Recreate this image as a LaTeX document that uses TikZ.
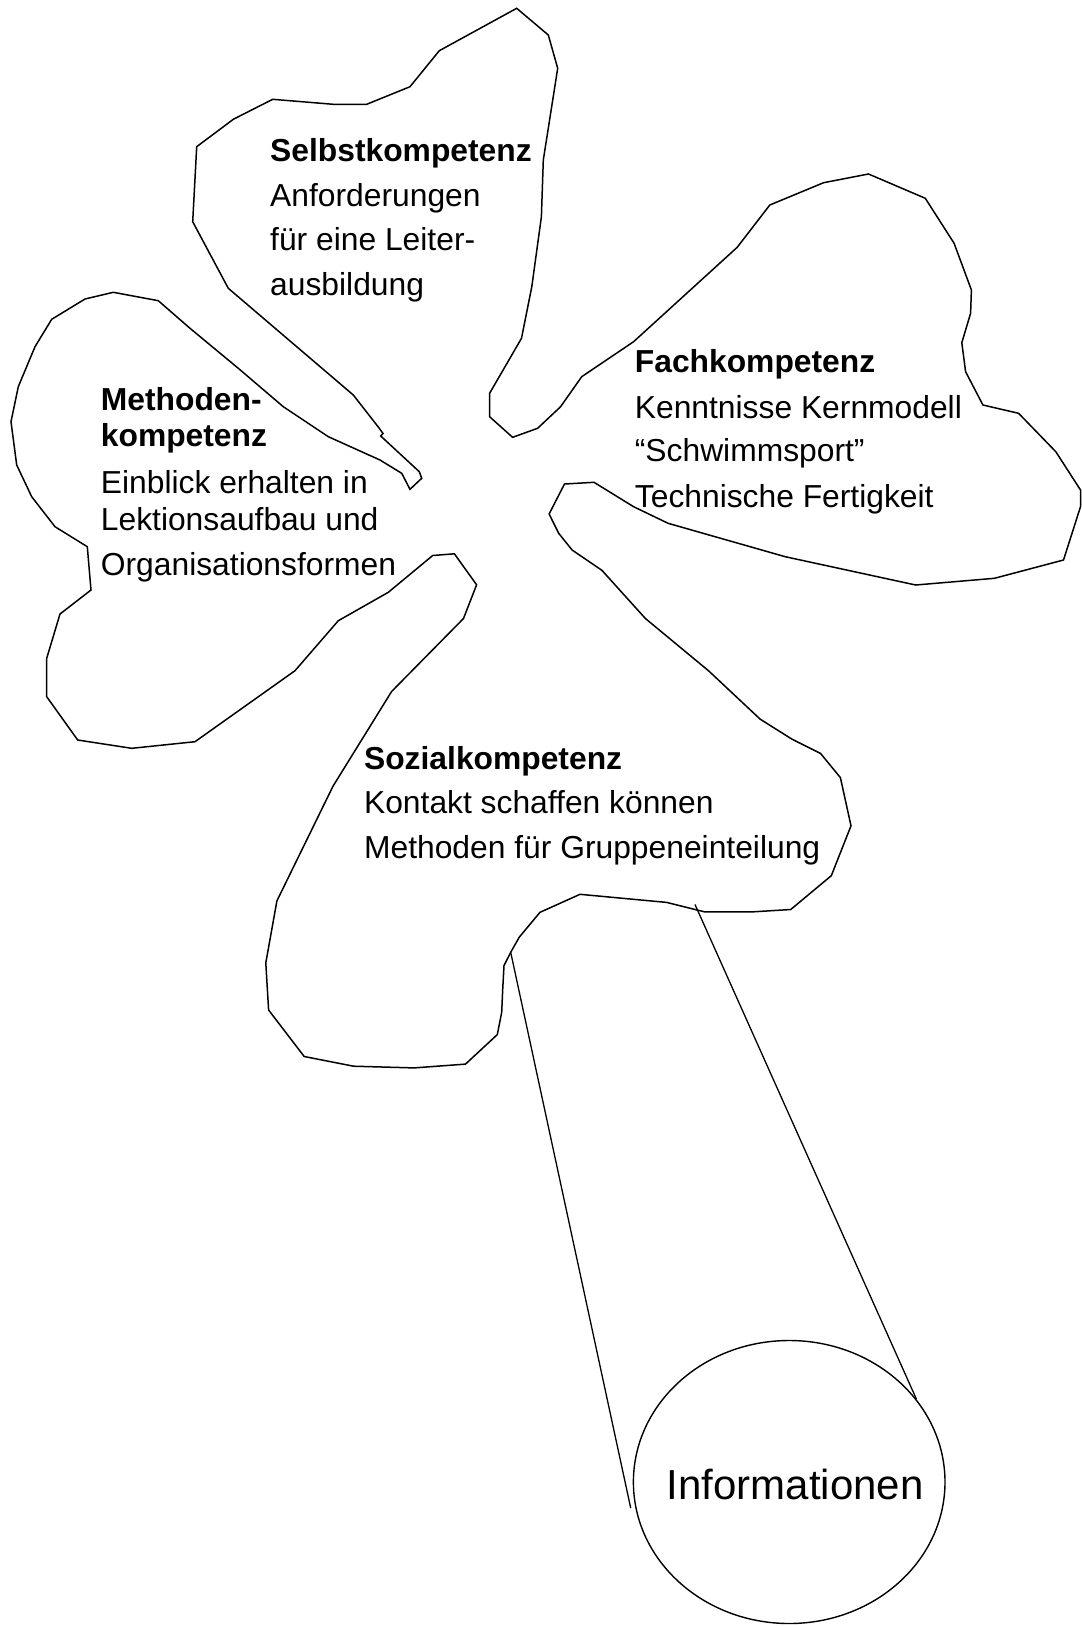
\documentclass[tikz,border=0pt]{standalone}
\usepackage{fontspec}
\setmainfont{Liberation Sans}
\usetikzlibrary{shapes.geometric}
\begin{document}
\begin{tikzpicture}[x=1pt,y=-1pt,
  outline/.style={line width=1.5pt},
  stemline/.style={line width=1.3pt},
  leaftext/.style={anchor=base west, inner sep=0pt, font=\fontsize{31.8pt}{44.4pt}\selectfont},
  leafhead/.style={anchor=base west, inner sep=0pt, font=\fontsize{31.8pt}{44.4pt}\selectfont\bfseries},
  infoshape/.style={draw, ellipse, line width=1.4pt, minimum width=311.6pt, minimum height=283pt, inner sep=0pt},
  infotext/.style={anchor=base, inner sep=0pt, font=\fontsize{42pt}{50pt}\selectfont}]
\useasboundingbox (0,0) rectangle (1082,1626);

% clover outline
\draw[outline] (196.7,146.7) -- (233.3,119.3) -- (272.7,99.3) -- (333.3,104.3) -- (366.7,104.3) -- (410,86.7) -- (439.3,50.7) -- (516.7,8.3) -- (548.3,35) -- (557.7,68.3) -- (543.3,160) -- (541.4,216.7) -- (531.8,286.7) -- (521.5,338.3) -- (489.6,393.3) -- (489.6,416.7) -- (512.6,437.3) -- (537.6,428.3) -- (560.6,406.7) -- (581.7,376.7) -- (633.6,341.7) -- (737.2,247.3) -- (769.8,205) -- (823.6,182.7) -- (868.5,174) -- (925.3,198.3) -- (954.1,243.3) -- (971.4,290) -- (970.6,313.3) -- (961.8,342.7) -- (965.6,371.7) -- (982.9,405) -- (1018.6,413.3) -- (1055.8,451.7) -- (1080.5,490) -- (1080.5,506.7) -- (1063.5,560) -- (994.4,578.3) -- (915.7,585) -- (785.2,556.7) -- (668.1,523.3) -- (633.6,506.7) -- (594,482.3) -- (564.5,484) -- (549.1,514) -- (558.7,533.3) -- (572.1,550) -- (601.9,570.3) -- (645.4,618.5) -- (708.7,670.9) -- (760.1,719.1) -- (791.7,739) -- (820.6,753.5) -- (840.4,777.6) -- (851,825.8) -- (831.3,875.7) -- (790.7,909.5) -- (751.7,911.9) -- (705,911.9) -- (695,909.5) -- (666.7,902.4) -- (580,894.3) -- (540,912.3) -- (519.3,937.1) -- (510.7,952.3) -- (504,965.6) -- (502.7,989.4) -- (501.7,1012.3) -- (497.3,1034.6) -- (465.5,1064.1) -- (414.1,1067.9) -- (353.6,1066.2) -- (304.2,1056.5) -- (268.6,1010) -- (265.8,962.9) -- (276.9,900.9) -- (333,786.2) -- (391.6,691.5) -- (463.5,618.5) -- (476.6,584.8) -- (454.4,553.8) -- (432.7,555.5) -- (388.3,592.3) -- (338.3,620.7) -- (295,670.7) -- (195,741.7) -- (131.7,748.3) -- (77.7,740) -- (46.7,696.7) -- (46.7,658.3) -- (60,614) -- (91,590) -- (87.3,546.7) -- (55,526.7) -- (31.7,496.7) -- (16.7,465) -- (11,421.7) -- (18.3,386.7) -- (35,346.7) -- (51.7,319.3) -- (85,299) -- (113.3,292.3) -- (158.3,300.7) -- (190,328.3) -- (238.3,368.3) -- (283.3,406.7) -- (328.3,436.7) -- (380,460) -- (401.7,473.3) -- (410,489.3) -- (421.7,478.3) -- (419.3,471.7) -- (380.7,436) -- (383,433.5) -- (379.3,428.3) -- (353.3,395) -- (228.3,288.3) -- (192.7,221.7) -- cycle;

% Informationen
\node[infoshape] (info) at (789.2,1482) {};
\node[infotext] (infolabel) at (795.3,1499.4) {Informationen};

% stem
\coordinate (sl0) at (510.7,952.3);
\coordinate (sl1) at (630.7,1508);
\coordinate (sr0) at (695,904.5);
\draw[stemline] (sl0) -- (sl1);
\draw[stemline] (sr0) -- (info.33.6);

% Selbstkompetenz
\node[leafhead] (s1) at (270,161.7) {Selbstkompetenz};
\node[leaftext] (s2) at (270,206.7) {Anforderungen};
\node[leaftext] (s3) at (270,250.7) {für eine Leiter-};
\node[leaftext] (s4) at (270,295.7) {ausbildung};

% Methodenkompetenz
\node[leafhead] (m1) at (100.7,410) {Methoden-};
\node[leafhead] (m2) at (100.7,446.7) {kompetenz};
\node[leaftext] (m3) at (100.7,493.3) {Einblick erhalten in};
\node[leaftext] (m4) at (100.7,530) {Lektionsaufbau und};
\node[leaftext] (m5) at (100.7,575.7) {Organisationsformen};

% Fachkompetenz
\node[leafhead] (f1) at (634.7,372.3) {Fachkompetenz};
\node[leaftext] (f2) at (634.7,418.3) {Kenntnisse Kernmodell};
\node[leaftext] (f3) at (634.7,461.7) {“Schwimmsport”};
\node[leaftext] (f4) at (634.7,507.3) {Technische Fertigkeit};

% Sozialkompetenz
\node[leafhead] (k1) at (363.9,769) {Sozialkompetenz};
\node[leaftext] (k2) at (363.9,813.8) {Kontakt schaffen können};
\node[leaftext] (k3) at (363.9,858.5) {Methoden für Gruppeneinteilung};
\end{tikzpicture}
\end{document}
